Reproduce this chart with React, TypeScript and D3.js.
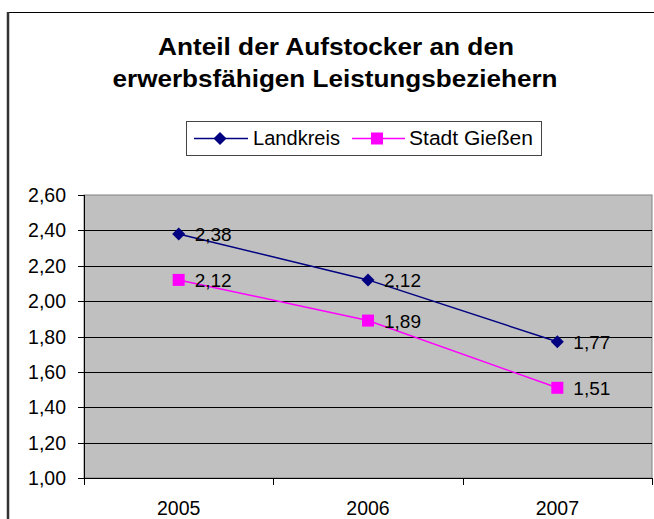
import React from "react";
import * as d3 from "d3";

const years = ["2005", "2006", "2007"];
const landkreis = [2.38, 2.12, 1.77];
const stadtGiessen = [2.12, 1.89, 1.51];
const yTicks = [1.0, 1.2, 1.4, 1.6, 1.8, 2.0, 2.2, 2.4, 2.6];
const titleLines = ["Anteil der Aufstocker an den", "erwerbsfähigen Leistungsbeziehern"];
const seriesNames = ["Landkreis", "Stadt Gießen"];

const W = 654;
const H = 519;
const plot = { left: 84, right: 652, top: 195, bottom: 478 };
const FONT = "'Liberation Sans', Arial, sans-serif";
const NAVY = "#000080";
const MAGENTA = "#FF00FF";

const fmt = (v: number) => v.toFixed(2).replace(".", ",");

export default function App() {
  const x = d3.scaleBand<string>().domain(years).range([plot.left, plot.right]).padding(0);
  const y = d3.scaleLinear().domain([1.0, 2.6]).range([plot.bottom, plot.top]);
  const cx = (d: string) => (x(d) as number) + x.bandwidth() / 2;

  const line = d3
    .line<number>()
    .x((_, i) => cx(years[i]))
    .y((v) => y(v));

  const diamond = (px: number, py: number, r: number) =>
    `M${px},${py - r}L${px + r},${py}L${px},${py + r}L${px - r},${py}Z`;

  const boundaries = [...years.map((d) => x(d) as number), plot.right];

  return (
    <svg
      width={W}
      height={H}
      style={{ position: "absolute", left: 0, top: 0, background: "#fff" }}
      fontFamily={FONT}
    >
      {/* outer frame */}
      <line x1={7} y1={12.5} x2={W} y2={12.5} stroke="#000" strokeWidth={1} />
      <line x1={8} y1={12} x2={8} y2={H} stroke="#333" strokeWidth={2.5} />

      {/* title */}
      <text x={336} y={55} textAnchor="middle" fontSize={23.5} fontWeight="bold" textLength={356} lengthAdjust="spacingAndGlyphs">
        {titleLines[0]}
      </text>
      <text x={335} y={87} textAnchor="middle" fontSize={23.5} fontWeight="bold" textLength={445} lengthAdjust="spacingAndGlyphs">
        {titleLines[1]}
      </text>

      {/* legend */}
      <rect x={186.5} y={121.5} width={355} height={34} fill="#fff" stroke="#444" strokeWidth={1} />
      <line x1={194} x2={248} y1={138.5} y2={138.5} stroke={NAVY} strokeWidth={1.5} />
      <path d={diamond(220, 138.5, 6.5)} fill={NAVY} />
      <text x={253} y={145} fontSize={20.5} textLength={87} lengthAdjust="spacingAndGlyphs">
        {seriesNames[0]}
      </text>
      <line x1={352} x2={405} y1={138.5} y2={138.5} stroke={MAGENTA} strokeWidth={1.5} />
      <rect x={371} y={132.5} width={12} height={12} fill={MAGENTA} />
      <text x={409} y={145} fontSize={20.5} textLength={124} lengthAdjust="spacingAndGlyphs">
        {seriesNames[1]}
      </text>

      {/* plot area */}
      <rect
        x={plot.left}
        y={plot.top}
        width={plot.right - plot.left}
        height={plot.bottom - plot.top}
        fill="#C0C0C0"
        stroke="#808080"
        strokeWidth={1}
      />
      {/* gridlines */}
      {yTicks.slice(1, -1).map((t) => (
        <line
          key={"g" + t}
          x1={plot.left}
          x2={plot.right}
          y1={Math.round(y(t)) + 0.5}
          y2={Math.round(y(t)) + 0.5}
          stroke="#000"
          strokeWidth={1}
        />
      ))}
      {/* axes */}
      <line x1={plot.left + 0.5} x2={plot.left + 0.5} y1={plot.top} y2={plot.bottom} stroke="#000" />
      <line x1={plot.left} x2={plot.right} y1={plot.bottom + 0.5} y2={plot.bottom + 0.5} stroke="#000" />
      {yTicks.map((t) => (
        <g key={"yt" + t}>
          <line
            x1={plot.left - 6}
            x2={plot.left}
            y1={Math.round(y(t)) + 0.5}
            y2={Math.round(y(t)) + 0.5}
            stroke="#000"
          />
          <text x={66} y={y(t) + 7} textAnchor="end" fontSize={19.5}>
            {fmt(t)}
          </text>
        </g>
      ))}
      {boundaries.map((b, i) => (
        <line
          key={"xt" + i}
          x1={Math.round(b) + 0.5}
          x2={Math.round(b) + 0.5}
          y1={plot.bottom}
          y2={plot.bottom + 7}
          stroke="#000"
        />
      ))}
      {years.map((d) => (
        <text key={"xl" + d} x={cx(d)} y={515} textAnchor="middle" fontSize={19.5}>
          {d}
        </text>
      ))}

      {/* series lines */}
      <path d={line(landkreis) as string} fill="none" stroke={NAVY} strokeWidth={1.5} />
      <path d={line(stadtGiessen) as string} fill="none" stroke={MAGENTA} strokeWidth={1.5} />

      {/* markers */}
      {landkreis.map((v, i) => (
        <path key={"lm" + i} d={diamond(cx(years[i]), y(v), 6.5)} fill={NAVY} />
      ))}
      {stadtGiessen.map((v, i) => (
        <rect key={"sm" + i} x={cx(years[i]) - 6} y={y(v) - 6} width={12} height={12} fill={MAGENTA} />
      ))}

      {/* data labels */}
      {landkreis.map((v, i) => (
        <text key={"ll" + i} x={cx(years[i]) + 16} y={y(v) + 7} fontSize={19}>
          {fmt(v)}
        </text>
      ))}
      {stadtGiessen.map((v, i) => (
        <text key={"sl" + i} x={cx(years[i]) + 16} y={y(v) + 7} fontSize={19}>
          {fmt(v)}
        </text>
      ))}
    </svg>
  );
}
